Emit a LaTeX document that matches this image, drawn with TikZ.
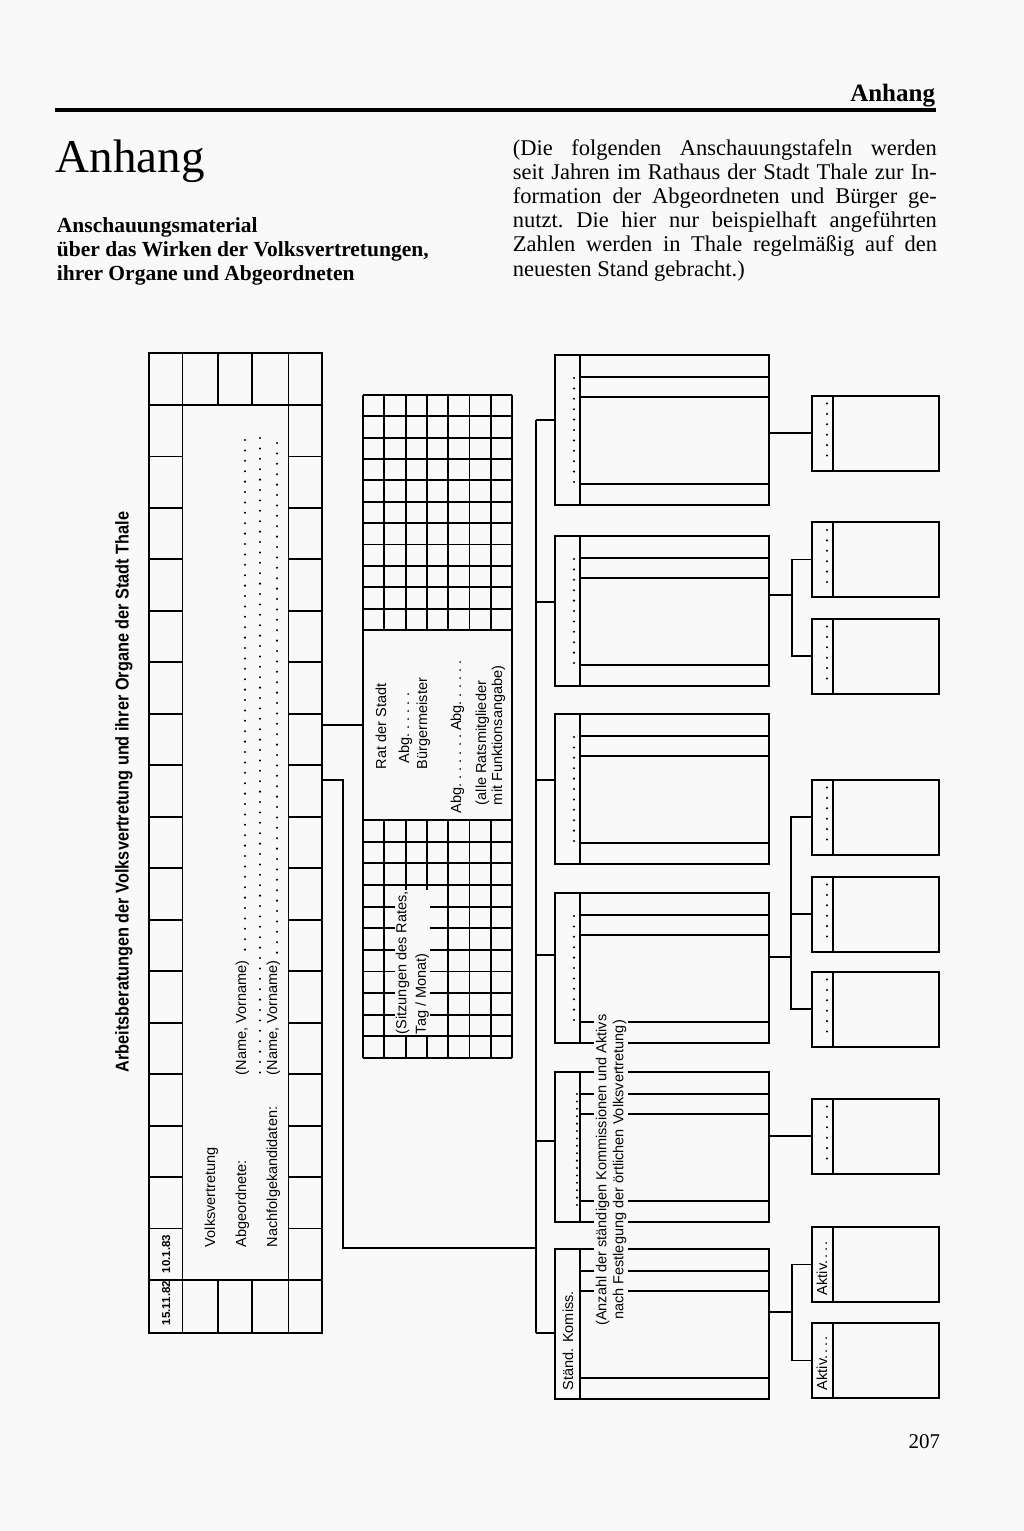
\documentclass[tikz,border=0pt]{standalone}
\usepackage{fontspec}
\setmainfont{Liberation Serif}
\setsansfont{Liberation Sans}
\newfontfamily\schmal{Liberation Sans}[FakeStretch=0.88]
\usetikzlibrary{positioning,calc}
\definecolor{papier}{gray}{0.975}

\begin{document}
\begin{tikzpicture}[x=1pt,y=-1pt,line width=1.9pt,
  lb/.style={font=\sffamily\fontsize{14.5}{17}\selectfont,inner sep=0pt},
  rl/.style={lb,rotate=90,anchor=base west},
  zl/.style={anchor=base west,inner sep=0pt,font=\fontsize{22.5}{24.2}\selectfont},
  kb/.style={draw,line width=2.2pt,inner sep=0pt,minimum width=214,minimum height=150},
  ab/.style={draw,line width=2pt,inner sep=0pt,minimum width=127,minimum height=75},
  punkte/.style={line width=2.3pt,line cap=round,dash pattern=on 0pt off #1},
  punkte/.default=10.4
]
\path[use as bounding box,fill=papier] (0,0) rectangle (1024,1531);

\node[anchor=base east,inner sep=0pt,font=\bfseries\fontsize{25}{28}\selectfont] (kopf) at (936,101) {Anhang};
\draw[line width=3.4pt] (55,110) -- (936,110);
\node[anchor=base west,inner sep=0pt,font=\fontsize{47}{50}\selectfont] (titel) at (55,172) {Anhang};
\node[anchor=base west,inner sep=0pt,font=\bfseries\fontsize{21.5}{24}\selectfont] (sub1) at (56,232) {Anschauungsmaterial};
\node[anchor=base west,inner sep=0pt,font=\bfseries\fontsize{21.5}{24}\selectfont] (sub2) at (56,256) {über das Wirken der Volksvertretungen,};
\node[anchor=base west,inner sep=0pt,font=\bfseries\fontsize{21.5}{24}\selectfont] (sub3) at (56,280) {ihrer Organe und Abgeordneten};
\node[zl] (z1) at (512,155) {\makebox[424pt][s]{(Die folgenden Anschauungstafeln werden}};
\node[zl] (z2) at (512,179.2) {\makebox[424pt][s]{seit Jahren im Rathaus der Stadt Thale zur In-}};
\node[zl] (z3) at (512,203.4) {\makebox[424pt][s]{formation der Abgeordneten und Bürger ge-}};
\node[zl] (z4) at (512,227.6) {\makebox[424pt][s]{nutzt.\ Die hier nur beispielhaft angeführten}};
\node[zl] (z5) at (512,251.8) {\makebox[424pt][s]{Zahlen werden in Thale regelmäßig auf den}};
\node[zl] (z6) at (512,276) {neuesten Stand gebracht.)};
\node[anchor=base east,inner sep=0pt,font=\fontsize{21}{24}\selectfont] (seite) at (941,1448) {207};

\node[draw,line width=2.6pt,inner sep=0pt,minimum width=173,minimum height=980] (tafel) at (235.5,843) {};
\draw (149,405) -- (322,405) (149,1280) -- (322,1280);
\draw (182.5,405) -- (182.5,1280) (288.5,405) -- (288.5,1280);
\foreach \x in {182.5,218,252,288.5} \draw (\x,353) -- (\x,405) (\x,1280) -- (\x,1333);
\foreach \k in {1,...,16} \draw (149,405+\k*51.47) -- (182.5,405+\k*51.47) (288.5,405+\k*51.47) -- (322,405+\k*51.47);
\node[rl,font=\sffamily\bfseries\fontsize{11.5}{13}\selectfont] (datum1) at (170,1326) {15.11.82};
\node[rl,font=\sffamily\bfseries\fontsize{11.5}{13}\selectfont] (datum2) at (170,1274) {10.1.83};
\node[rotate=90,inner sep=0pt,font=\schmal\bfseries\fontsize{18.5}{20}\selectfont] (ueber) at (124,792) {Arbeitsberatungen der Volksvertretung und ihrer Organe der Stadt Thale};
\node[rl] (vv) at (215,1248) {Volksvertretung};
\node[rl] (abg) at (246,1248) {Abgeordnete:};
\node[rl] (abgn) at (246,1076) {(Name, Vorname)};
\node[rl] (nk) at (277,1248) {Nachfolgekandidaten:};
\node[rl] (nkn) at (277,1076) {(Name, Vorname)};
\draw[punkte] (245,440) -- (245,954);
\draw[punkte] (260,438) -- (260,1078);
\draw[punkte] (277,443) -- (277,954);

\foreach \c in {0,...,7} \draw (363+\c*21.29,395) -- (363+\c*21.29,630) (363+\c*21.29,820) -- (363+\c*21.29,1058);
\foreach \r in {0,...,10} \draw (363,395+\r*21.36) -- (512,395+\r*21.36);
\foreach \r in {1,...,11} \draw (363,820+\r*21.64) -- (512,820+\r*21.64);
\node[draw,line width=2.8pt,inner sep=0pt,minimum width=149,minimum height=190] (rat) at (437.5,725) {};
\node[rl] (rat1) at (386,770) {Rat der Stadt};
\node[rl] (rat2) at (409,764) {Abg.\ .\ .\ .\ .\ .};
\node[rl] (rat3) at (427,770) {Bürgermeister};
\node[rl] (rat4) at (461,814) {Abg.\ .\ .\ .\ .\ .\ .\ Abg.\ .\ .\ .\ .\ .};
\node[rl] (rat5) at (486,806) {(alle Ratsmitglieder};
\node[rl] (rat6) at (502,806) {mit Funktionsangabe)};
\node[lb,rotate=90,anchor=north west,align=left,fill=papier,inner sep=1pt,font=\sffamily\fontsize{14.5}{19.5}\selectfont] (sitz) at (394,1036) {(Sitzungen des Rates,\\Tag / Monat)};

\foreach \t [count=\i] in {355,536,714,893,1072,1249}{
  \node[kb] (k\i) at (662,\t+75) {};
  \draw (580,\t) -- (580,\t+150);
  \foreach \o in {22,42,129} \draw (580,\t+\o) -- (769,\t+\o);
}
\foreach \t in {355,536,714,893} \draw[punkte] (574,\t+23) -- (574,\t+130);
\draw[punkte=7.4] (577,1094) -- (577,1205);
\node[rl] (staend) at (573,1391) {Ständ. Komiss.};
\node[lb,rotate=90,align=center,fill=papier,inner sep=2pt] (anzahl) at (611,1170) {(Anzahl der ständigen Kommissionen und Aktivs\\nach Festlegung der örtlichen Volksvertretung)};

\foreach \m/\n in {433/1,559.5/2,656/3,817/4,914/5,1009/6,1136/7,1264.5/8,1360.5/9}{
  \node[ab] (r\n) at (875.5,\m) {};
  \draw (833,\m-37.5) -- (833,\m+37.5);
}
\foreach \n in {1,...,7} \draw[punkte] ($(r\n.north west)+(16,9)$) -- ($(r\n.south west)+(16,-8)$);
\node[rl] (akt1) at (827,1296) {Aktiv.\,.\,.\,.};
\node[rl] (akt2) at (827,1391) {Aktiv.\,.\,.\,.};

\draw[line width=2.8pt] (rat.west) -- (rat.west -| tafel.east);
\coordinate (s1) at (322,780);
\foreach \i/\y in {1/420,2/602,3/780,4/955,5/1141,6/1333}{
  \coordinate (a\i) at (536,\y);
  \draw (a\i) -- (a\i -| k\i.west);
}
\draw (a1) -- (a6);
\draw (s1) -- ++(21,0) |- (a6 |- k6.north);
\draw (r1.west) -- (r1.west -| k1.east);
\coordinate (j2) at (792,595);
\draw (r2.west) -| (j2) |- (r3.west);
\draw (j2) -- (j2 -| k2.east);
\coordinate (j4) at (791,957);
\draw (r4.west) -| (j4) |- (r6.west);
\draw (r5.west) -- (r5.west -| j4);
\draw (j4) -- (j4 -| k4.east);
\draw (r7.west) -- (r7.west -| k5.east);
\coordinate (j6) at (792,1312);
\draw (r8.west) -| (j6) |- (r9.west);
\draw (j6) -- (j6 -| k6.east);
\end{tikzpicture}
\end{document}
